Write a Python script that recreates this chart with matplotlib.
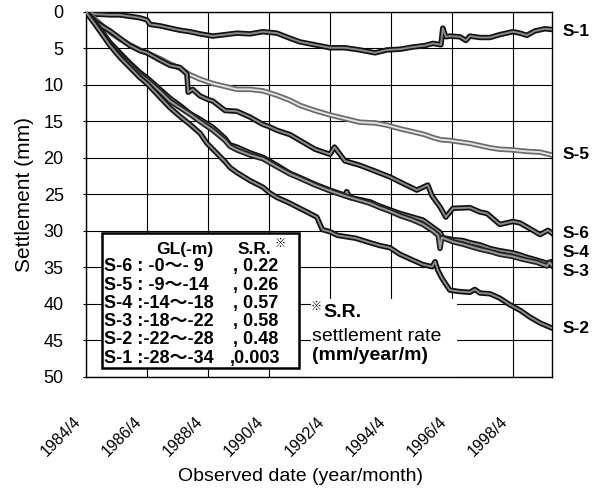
import matplotlib
matplotlib.use("Agg")
import matplotlib.pyplot as plt
import matplotlib.patheffects as pe
from matplotlib.patches import Rectangle
from matplotlib.transforms import ScaledTranslation

plt.rcParams["font.family"] = ["Liberation Sans", "Noto Sans CJK JP", "DejaVu Sans"]

# observed date (decimal year) and settlement (mm)
s1_year = [1984.25, 1984.55, 1985.04, 1985.36, 1985.69, 1986.02, 1986.25, 1986.35, 1986.68,
           1987.00, 1987.33, 1987.66, 1987.99, 1988.41, 1988.81, 1989.20, 1989.63, 1990.05,
           1990.51, 1990.94, 1991.27, 1991.76, 1992.25, 1992.74, 1993.23, 1993.73, 1994.12,
           1994.55, 1994.97, 1995.36, 1995.63, 1995.89, 1995.95, 1996.05, 1996.18, 1996.51,
           1996.71, 1996.84, 1997.17, 1997.50, 1997.82, 1998.25, 1998.48, 1998.71, 1998.97,
           1999.30, 1999.53]
s1_mm = [0.0, 0.3, 0.4, 0.4, 0.6, 0.8, 1.1, 1.7, 1.9,
         2.2, 2.5, 2.7, 3.0, 3.3, 3.1, 2.9, 3.0, 2.7,
         2.9, 3.6, 4.1, 4.5, 4.9, 4.9, 5.2, 5.6, 5.2,
         5.1, 4.8, 4.6, 4.3, 4.5, 2.2, 3.4, 3.3, 3.4,
         3.9, 3.3, 3.5, 3.5, 3.1, 2.7, 2.9, 3.2, 2.6,
         2.3, 2.4]

s5_year = [1984.25, 1984.55, 1985.04, 1985.36, 1985.69, 1986.02, 1986.25, 1986.68, 1987.00,
           1987.33, 1987.66, 1987.99, 1988.41, 1988.81, 1989.20, 1989.63, 1990.05, 1990.51,
           1990.94, 1991.27, 1991.76, 1992.25, 1992.74, 1993.23, 1993.73, 1994.12, 1994.55,
           1994.97, 1995.36, 1995.63, 1995.89, 1996.18, 1996.51, 1996.84, 1997.17, 1997.50,
           1997.82, 1998.25, 1998.71, 1999.14, 1999.53]
s5_mm = [0.0, 1.0, 2.8, 3.7, 4.5, 5.2, 5.6, 6.4, 7.1,
         7.7, 8.6, 9.2, 9.8, 10.2, 10.6, 10.6, 10.8, 11.4,
         12.1, 12.8, 13.5, 14.1, 14.6, 15.1, 15.2, 15.5, 16.0,
         16.4, 16.8, 17.2, 17.5, 17.6, 17.8, 18.0, 18.3, 18.6,
         18.8, 18.9, 19.1, 19.2, 19.6]

s6_year = [1984.25, 1984.55, 1984.80, 1985.04, 1985.36, 1985.69, 1986.02, 1986.25, 1986.68,
           1987.00, 1987.33, 1987.56, 1987.60, 1987.75, 1987.99, 1988.25, 1988.41, 1988.81,
           1989.20, 1989.63, 1990.05, 1990.25, 1990.51, 1990.94, 1991.27, 1991.76, 1992.25,
           1992.40, 1992.74, 1993.23, 1993.73, 1994.22, 1994.70, 1995.10, 1995.46, 1995.60,
           1995.86, 1996.05, 1996.28, 1996.84, 1997.17, 1997.40, 1997.82, 1998.25, 1998.48,
           1998.90, 1999.14, 1999.40, 1999.53]
s6_mm = [0.0, 1.3, 2.0, 2.6, 3.6, 4.6, 5.3, 5.6, 6.6,
         7.3, 7.6, 8.5, 11.0, 10.6, 11.5, 12.0, 12.2, 13.5,
         13.6, 14.4, 15.4, 15.7, 16.2, 16.8, 17.6, 18.8, 19.5,
         18.5, 20.4, 21.0, 21.8, 22.6, 23.6, 24.4, 23.7, 25.2,
         26.7, 28.1, 26.9, 26.8, 27.4, 27.6, 29.1, 28.7, 28.9,
         29.9, 30.5, 29.9, 30.3]

s4_year = [1984.25, 1984.55, 1985.04, 1985.36, 1985.69, 1986.02, 1986.25, 1986.68, 1987.00,
           1987.33, 1987.66, 1987.99, 1988.41, 1988.81, 1988.97, 1989.20, 1989.63, 1990.05,
           1990.51, 1990.94, 1991.17, 1991.76, 1992.25, 1992.74, 1992.80, 1992.90, 1993.23,
           1993.56, 1993.89, 1994.22, 1994.55, 1994.97, 1995.30, 1995.63, 1995.86, 1995.95,
           1996.30, 1996.60, 1996.84, 1997.17, 1997.50, 1997.82, 1998.25, 1998.50, 1998.71,
           1999.04, 1999.36, 1999.53]
s4_mm = [0.0, 1.5, 4.2, 5.6, 7.0, 8.3, 9.0, 10.6, 11.8,
         12.8, 13.9, 14.7, 15.8, 17.3, 18.2, 18.5, 19.3, 19.9,
         21.0, 22.1, 22.5, 23.6, 24.4, 25.1, 24.6, 25.4, 25.7,
         26.0, 26.6, 27.1, 27.6, 28.1, 28.5, 29.5, 30.2, 30.9,
         31.2, 31.3, 31.6, 31.9, 32.4, 32.7, 33.0, 33.3, 33.6,
         34.0, 34.4, 34.2]

s3_year = [1984.25, 1984.55, 1985.04, 1985.36, 1985.69, 1986.02, 1986.25, 1986.68, 1987.00,
           1987.33, 1987.66, 1987.99, 1988.41, 1988.81, 1988.97, 1989.20, 1989.63, 1990.05,
           1990.51, 1990.94, 1991.17, 1991.76, 1992.25, 1992.74, 1993.23, 1993.56, 1993.89,
           1994.22, 1994.55, 1994.97, 1995.30, 1995.63, 1995.80, 1995.86, 1995.92, 1996.30,
           1996.60, 1996.84, 1997.17, 1997.50, 1997.82, 1998.25, 1998.50, 1998.71, 1999.04,
           1999.36, 1999.45, 1999.53]
s3_mm = [0.0, 1.4, 4.4, 5.9, 7.2, 8.6, 9.3, 10.9, 12.2,
         13.1, 14.0, 15.0, 16.2, 17.6, 18.4, 18.9, 19.6, 20.1,
         21.2, 22.2, 22.6, 23.7, 24.5, 25.2, 25.8, 26.2, 26.8,
         27.3, 27.9, 28.5, 29.1, 30.0, 30.6, 32.4, 30.9, 31.5,
         31.8, 32.1, 32.5, 32.8, 33.2, 33.5, 33.8, 34.0, 34.3,
         34.8, 34.3, 34.7]

s2_year = [1984.25, 1984.55, 1985.04, 1985.36, 1985.69, 1986.02, 1986.25, 1986.68, 1987.00,
           1987.33, 1987.66, 1987.99, 1988.22, 1988.41, 1988.81, 1988.97, 1989.20, 1989.63,
           1990.05, 1990.28, 1990.51, 1990.94, 1991.17, 1991.50, 1991.82, 1992.00, 1992.25,
           1992.50, 1992.80, 1993.10, 1993.56, 1993.89, 1994.22, 1994.55, 1994.97, 1995.30,
           1995.60, 1995.70, 1995.78, 1995.90, 1996.02, 1996.18, 1996.50, 1996.84, 1997.00,
           1997.17, 1997.50, 1997.82, 1998.15, 1998.50, 1998.81, 1999.14, 1999.53]
s2_mm = [0.0, 1.7, 4.6, 6.2, 7.6, 9.0, 9.8, 11.7, 13.1,
         14.3, 15.4, 16.6, 18.0, 18.8, 20.5, 21.3, 22.0, 23.1,
         24.0, 24.8, 25.4, 26.2, 26.7, 27.4, 28.1, 29.8, 30.1,
         30.6, 30.8, 31.0, 31.6, 32.0, 32.3, 33.2, 34.0, 34.6,
         34.9, 34.2, 35.3, 36.3, 37.1, 38.1, 38.3, 38.4, 38.0,
         38.5, 38.6, 39.2, 40.1, 40.9, 41.8, 42.6, 43.3]

tick_years = [1984.25, 1986.25, 1988.25, 1990.25, 1992.25, 1994.25, 1996.25, 1998.25]
tick_labels = ["1984/4", "1986/4", "1988/4", "1990/4", "1992/4", "1994/4", "1996/4", "1998/4"]
y_ticks = [0, 5, 10, 15, 20, 25, 30, 35, 40, 45, 50]

table_names = ["S-6", "S-5", "S-4", "S-3", "S-2", "S-1"]
table_depths = [": -0〜- 9", ": -9〜-14", ":-14〜-18", ":-18〜-22", ":-22〜-28", ":-28〜-34"]
table_rates = [", 0.22", ", 0.26", ", 0.57", ", 0.58", ", 0.48", ",0.003"]

end_names = ["S-1", "S-5", "S-6", "S-4", "S-3", "S-2"]
end_label_mm = [2.7, 19.5, 30.3, 32.9, 35.6, 43.3]


def draw_line(ax, x, y, edge, fill):
    ax.plot(x, y, color=fill, lw=1.4, zorder=3, solid_joinstyle="round",
            path_effects=[pe.Stroke(linewidth=3.9, foreground=edge), pe.Normal()])


fig = plt.figure(figsize=(6.05, 4.91), dpi=100)
ax = fig.add_axes([0.1421, 0.2322, 0.7702, 0.7434])

draw_line(ax, s1_year, s1_mm, "#111111", "#8a8a8a")
draw_line(ax, s5_year, s5_mm, "#6a6a6a", "#e2e2e2")
draw_line(ax, s6_year, s6_mm, "#111111", "#8a8a8a")
draw_line(ax, s4_year, s4_mm, "#111111", "#8a8a8a")
draw_line(ax, s3_year, s3_mm, "#222222", "#9a9a9a")
draw_line(ax, s2_year, s2_mm, "#111111", "#8a8a8a")

ax.set_xlim(1984.25, 1999.53)
ax.set_ylim(50, 0)
ax.set_xticks(tick_years)
ax.set_yticks(y_ticks)
ax.grid(True, color="black", lw=0.8, zorder=1)
ax.set_axisbelow(True)
for sp in ax.spines.values():
    sp.set_linewidth(1.0)

ax.tick_params(axis="y", length=2, width=0.8, pad=14, labelsize=13)
ax.tick_params(axis="x", length=0, pad=0)
ax.set_xticklabels(tick_labels, rotation=45, ha="right", va="center",
                   rotation_mode="anchor", fontsize=11.5)
shift = ScaledTranslation(-0.08, -0.42, fig.dpi_scale_trans)
for lab in ax.get_xticklabels():
    lab.set_transform(lab.get_transform() + shift)

ax.set_ylabel("Settlement (mm)", fontsize=15)
ax.yaxis.set_label_coords(-0.112, 0.5)
ax.set_xlabel("Observed date (year/month)", fontsize=14, va="top")
ax.xaxis.set_label_coords(0.461, -0.25)

# table of depths and settlement rates
ax.add_patch(Rectangle((1984.77, 30.3), 6.46, 18.5, facecolor="white",
                       edgecolor="black", lw=1.8, zorder=5))
ax.text(1987.5, 32.6, "GL(-m)", fontsize=12.5, fontweight="bold",
        ha="center", va="center", zorder=6)
ax.text(1989.23, 32.6, "S.R.", fontsize=12.5, fontweight="bold",
        ha="left", va="center", zorder=6)
ax.text(1990.42, 31.8, "※", fontsize=8, fontweight="bold",
        ha="left", va="center", zorder=6)
for i, (nm, dp, rt) in enumerate(zip(table_names, table_depths, table_rates)):
    yy = 34.9 + i * 2.5
    ax.text(1984.84, yy, nm + " " + dp, fontsize=13, fontweight="bold",
            ha="left", va="center", zorder=6)
    ax.text(1988.95 if rt.startswith(",0") else 1989.07, yy, rt, fontsize=13,
            fontweight="bold", ha="left", va="center", zorder=6)

# note on S.R.
ax.add_patch(Rectangle((1991.62, 39.3), 4.8, 10.7, facecolor="white",
                       edgecolor="none", zorder=2))
ax.text(1991.6, 40.4, "※", fontsize=8, fontweight="bold",
        ha="left", va="center", zorder=6)
ax.text(1992.05, 41.2, "S.R.", fontsize=14, fontweight="bold",
        ha="left", va="center", zorder=6)
ax.text(1991.66, 44.5, "settlement rate", fontsize=14,
        ha="left", va="center", zorder=6)
ax.text(1991.66, 47.1, "(mm/year/m)", fontsize=14, fontweight="bold",
        ha="left", va="center", zorder=6)

for nm, yy in zip(end_names, end_label_mm):
    ax.text(1999.89, yy, nm, fontsize=12.5, fontweight="bold",
            ha="left", va="center", clip_on=False)

fig.savefig("out.png", dpi=100)
